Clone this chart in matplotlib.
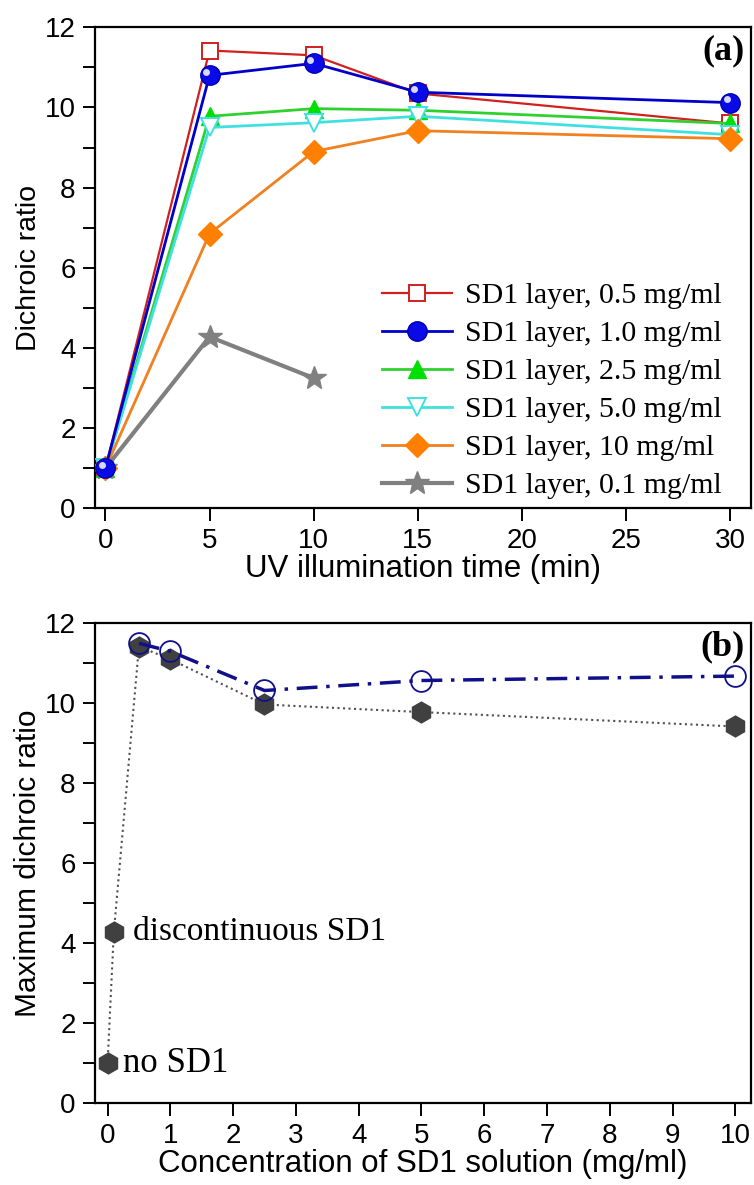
import matplotlib
matplotlib.use("Agg")
from matplotlib import pyplot as plt
from matplotlib.ticker import MultipleLocator
from matplotlib.transforms import ScaledTranslation

# UV illumination series, panel (a)
time_min = [0, 5, 10, 15, 30]
dr_05 = [1.0, 11.42, 11.30, 10.35, 9.60]
dr_10 = [1.0, 10.80, 11.10, 10.38, 10.12]
dr_25 = [1.0, 9.78, 9.97, 9.93, 9.60]
dr_50 = [1.0, 9.50, 9.62, 9.78, 9.32]
dr_100 = [1.0, 6.85, 8.90, 9.42, 9.22]
time_01 = [0, 5, 10]
dr_01 = [1.0, 4.28, 3.25]

# maximum dichroic ratio vs concentration, panel (b)
conc_open = [0.5, 1, 2.5, 5, 10]
max_open = [11.50, 11.30, 10.32, 10.57, 10.68]
conc_fill = [0, 0.1, 0.5, 1, 2.5, 5, 10]
max_fill = [1.0, 4.28, 11.42, 11.10, 9.97, 9.78, 9.42]

sans = "Liberation Sans"
serif = "Liberation Serif"

fig = plt.figure(figsize=(7.54, 11.85), dpi=100)
ax1 = fig.add_axes([0.126, 0.571, 0.870, 0.406])
ax2 = fig.add_axes([0.126, 0.069, 0.870, 0.405])

lw = 2.0
ms = 13
ax1.plot(time_min, dr_05, color="#d02020", lw=1.6, marker="s", ms=12,
         mfc="white", mec="#d02020", mew=1.4, label="SD1 layer, 0.5 mg/ml", zorder=3)
ax1.plot(time_min, dr_10, color="#0000c8", lw=lw, marker="o", ms=14,
         mfc="#0a0ae6", mec="#0000b0", label="SD1 layer, 1.0 mg/ml", zorder=4)
# little highlight on the blue spheres
shine = ScaledTranslation(-2.5 / 72, 2.5 / 72, fig.dpi_scale_trans)
ax1.plot(time_min, dr_10, ls="none", marker="o", ms=5, mfc="#d8d8ff",
         mec="none", transform=ax1.transData + shine, zorder=5)
ax1.plot(time_min, dr_25, color="#30d030", lw=lw, marker="^", ms=ms,
         mfc="#00e000", mec="#00e000", label="SD1 layer, 2.5 mg/ml", zorder=3)
ax1.plot(time_min, dr_50, color="#40e0e0", lw=lw, marker="v", ms=ms,
         mfc="white", mec="#40e0e0", mew=1.4, label="SD1 layer, 5.0 mg/ml", zorder=3)
ax1.plot(time_min, dr_100, color="#f08020", lw=lw, marker="D", ms=12,
         mfc="#ff7f00", mec="#ff7f00", label="SD1 layer, 10 mg/ml", zorder=3)
ax1.plot(time_01, dr_01, color="#808080", lw=3, marker="*", ms=18,
         mfc="#808080", mec="#808080", label="SD1 layer, 0.1 mg/ml", zorder=3)

ax1.set_xlim(-0.5, 31)
ax1.set_ylim(0, 12)
ax1.xaxis.set_major_locator(MultipleLocator(5))
ax1.yaxis.set_major_locator(MultipleLocator(2))
ax1.yaxis.set_minor_locator(MultipleLocator(1))
ax1.set_xlabel("UV illumination time (min)", fontsize=22.5, fontname=sans, labelpad=0)
ax1.set_ylabel("Dichroic ratio", fontsize=20.5, fontname=sans, labelpad=2)
ax1.text(0.99, 0.985, "(a)", transform=ax1.transAxes, ha="right", va="top",
         fontsize=26, fontweight="bold", fontname=serif)
leg = ax1.legend(loc="lower right", bbox_to_anchor=(0.956, 0.019), frameon=False,
                 handlelength=2.35, prop={"family": serif, "size": 21.5},
                 labelspacing=0.37, borderaxespad=0, borderpad=0, handletextpad=0.45)

# panel (b)
ax2.plot(conc_fill, max_fill, color="#505050", lw=1.5, ls=":", marker="h", ms=15,
         mfc="#404040", mec="#404040", zorder=3)
ax2.plot(conc_open, max_open, color="#10108a", lw=2.5, ls=(0, (6, 2.5, 1, 2.5)), marker="o",
         ms=15, mfc="none", mec="#10108a", mew=1.3, zorder=4)
ax2.text(0.4, 4.28, "discontinuous SD1", fontsize=24, fontname=serif, va="center")
ax2.text(0.25, 1.0, "no SD1", fontsize=25, fontname=serif, va="center")

ax2.set_xlim(-0.2, 10.25)
ax2.set_ylim(0, 12)
ax2.xaxis.set_major_locator(MultipleLocator(1))
ax2.yaxis.set_major_locator(MultipleLocator(2))
ax2.yaxis.set_minor_locator(MultipleLocator(1))
ax2.set_xlabel("Concentration of SD1 solution (mg/ml)", fontsize=22.5, fontname=sans, labelpad=0)
ax2.set_ylabel("Maximum dichroic ratio", fontsize=21.5, fontname=sans, labelpad=2)
ax2.text(0.99, 0.985, "(b)", transform=ax2.transAxes, ha="right", va="top",
         fontsize=26, fontweight="bold", fontname=serif)

for ax in (ax1, ax2):
    for s in ax.spines.values():
        s.set_linewidth(1.6)
    ax.tick_params(which="both", direction="out", top=False, right=False,
                   width=1.4, labelsize=20, pad=5, length=9)
    for lab in ax.get_xticklabels() + ax.get_yticklabels():
        lab.set_fontname(sans)

fig.savefig("out.png", dpi=100)
